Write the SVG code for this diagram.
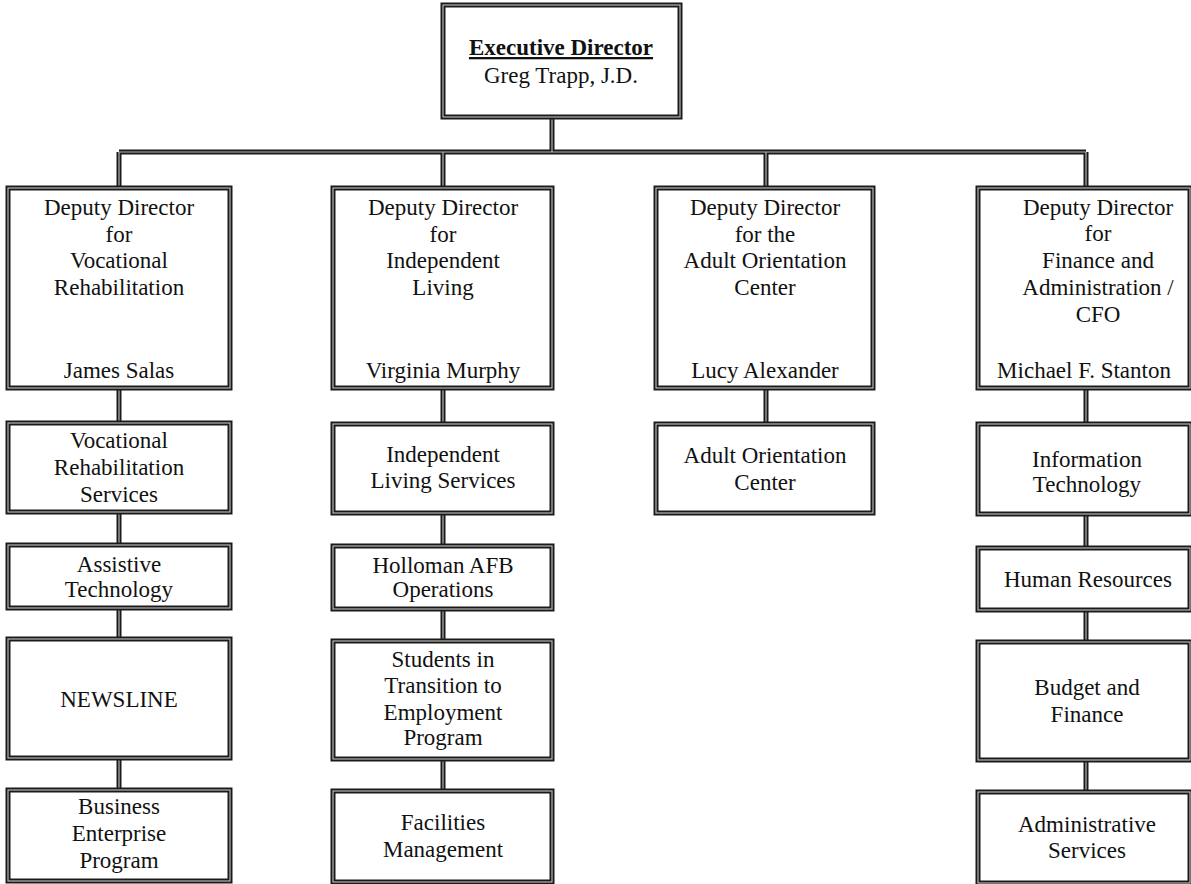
<svg xmlns="http://www.w3.org/2000/svg" width="1191" height="884" viewBox="0 0 1191 884">
<style>
.b{fill:#fff;stroke:#1a1a1a;stroke-width:5}
.bi{fill:none;stroke:#b5b5b5;stroke-width:1.2}
.c{fill:none;stroke:#1a1a1a;stroke-width:5}
.ci{fill:none;stroke:#b5b5b5;stroke-width:1.2}
text{font-family:"Liberation Serif","Times New Roman",serif;font-size:23px;fill:#111;text-anchor:middle}
.bold{font-weight:bold;text-decoration:underline}
</style>
<rect width="1191" height="884" fill="#fff"/>
<g id="connectors">
<path class="c" d="M552 117V152M119 152H1086M119 152V188M443 152V188M766 152V188M1086 152V188M119 388V423M119 512V545M119 608V639M119 758V790M443 388V424M443 513V546M443 609V641M443 759V791M766 388V424M1086 388V424M1086 514V548M1086 610V642M1086 760V792"/>
<path class="ci" d="M552 117V152M119 152H1086M119 152V188M443 152V188M766 152V188M1086 152V188M119 388V423M119 512V545M119 608V639M119 758V790M443 388V424M443 513V546M443 609V641M443 759V791M766 388V424M1086 388V424M1086 514V548M1086 610V642M1086 760V792"/>
</g>
<g id="exec">
<rect class="b" x="443" y="5" width="237" height="112"/><rect class="bi" x="443" y="5" width="237" height="112"/>
<text x="561" y="55" class="bold">Executive Director</text>
<text x="561" y="83">Greg Trapp, J.D.</text>
</g>
<g id="dd-vr">
<rect class="b" x="8" y="188" width="222" height="200"/><rect class="bi" x="8" y="188" width="222" height="200"/>
<text x="119" y="215">Deputy Director</text>
<text x="119" y="242">for</text>
<text x="119" y="268">Vocational</text>
<text x="119" y="295">Rehabilitation</text>
<text x="119" y="378">James Salas</text>
</g>
<g id="dd-il">
<rect class="b" x="333" y="188" width="219" height="200"/><rect class="bi" x="333" y="188" width="219" height="200"/>
<text x="443" y="215">Deputy Director</text>
<text x="443" y="242">for</text>
<text x="443" y="268">Independent</text>
<text x="443" y="295">Living</text>
<text x="443" y="378">Virginia Murphy</text>
</g>
<g id="dd-aoc">
<rect class="b" x="656" y="188" width="217" height="200"/><rect class="bi" x="656" y="188" width="217" height="200"/>
<text x="765" y="215">Deputy Director</text>
<text x="765" y="242">for the</text>
<text x="765" y="268">Adult Orientation</text>
<text x="765" y="295">Center</text>
<text x="765" y="378">Lucy Alexander</text>
</g>
<g id="dd-fa">
<rect class="b" x="978" y="188" width="212" height="200"/><rect class="bi" x="978" y="188" width="212" height="200"/>
<text x="1098" y="215">Deputy Director</text>
<text x="1098" y="241">for</text>
<text x="1098" y="268">Finance and</text>
<text x="1098" y="295">Administration /</text>
<text x="1098" y="322">CFO</text>
<text x="1084" y="378">Michael F. Stanton</text>
</g>
<g id="vrs">
<rect class="b" x="8" y="423" width="222" height="89"/><rect class="bi" x="8" y="423" width="222" height="89"/>
<text x="119" y="448">Vocational</text>
<text x="119" y="475">Rehabilitation</text>
<text x="119" y="502">Services</text>
</g>
<g id="at">
<rect class="b" x="8" y="545" width="222" height="63"/><rect class="bi" x="8" y="545" width="222" height="63"/>
<text x="119" y="572">Assistive</text>
<text x="119" y="597">Technology</text>
</g>
<g id="newsline">
<rect class="b" x="8" y="639" width="222" height="119"/><rect class="bi" x="8" y="639" width="222" height="119"/>
<text x="119" y="707">NEWSLINE</text>
</g>
<g id="bep">
<rect class="b" x="8" y="790" width="222" height="91"/><rect class="bi" x="8" y="790" width="222" height="91"/>
<text x="119" y="814">Business</text>
<text x="119" y="841">Enterprise</text>
<text x="119" y="868">Program</text>
</g>
<g id="ils">
<rect class="b" x="333" y="424" width="219" height="89"/><rect class="bi" x="333" y="424" width="219" height="89"/>
<text x="443" y="462">Independent</text>
<text x="443" y="488">Living Services</text>
</g>
<g id="holloman">
<rect class="b" x="333" y="546" width="219" height="63"/><rect class="bi" x="333" y="546" width="219" height="63"/>
<text x="443" y="573">Holloman AFB</text>
<text x="443" y="597">Operations</text>
</g>
<g id="step">
<rect class="b" x="333" y="641" width="219" height="118"/><rect class="bi" x="333" y="641" width="219" height="118"/>
<text x="443" y="667">Students in</text>
<text x="443" y="693">Transition to</text>
<text x="443" y="720">Employment</text>
<text x="443" y="745">Program</text>
</g>
<g id="facilities">
<rect class="b" x="333" y="791" width="219" height="91"/><rect class="bi" x="333" y="791" width="219" height="91"/>
<text x="443" y="830">Facilities</text>
<text x="443" y="857">Management</text>
</g>
<g id="aoc">
<rect class="b" x="656" y="424" width="217" height="89"/><rect class="bi" x="656" y="424" width="217" height="89"/>
<text x="765" y="463">Adult Orientation</text>
<text x="765" y="490">Center</text>
</g>
<g id="it">
<rect class="b" x="978" y="424" width="212" height="90"/><rect class="bi" x="978" y="424" width="212" height="90"/>
<text x="1087" y="467">Information</text>
<text x="1087" y="492">Technology</text>
</g>
<g id="hr">
<rect class="b" x="978" y="548" width="212" height="62"/><rect class="bi" x="978" y="548" width="212" height="62"/>
<text x="1088" y="587">Human Resources</text>
</g>
<g id="budget">
<rect class="b" x="978" y="642" width="212" height="118"/><rect class="bi" x="978" y="642" width="212" height="118"/>
<text x="1087" y="695">Budget and</text>
<text x="1087" y="722">Finance</text>
</g>
<g id="admin">
<rect class="b" x="978" y="792" width="212" height="91"/><rect class="bi" x="978" y="792" width="212" height="91"/>
<text x="1087" y="832">Administrative</text>
<text x="1087" y="858">Services</text>
</g>
</svg>
